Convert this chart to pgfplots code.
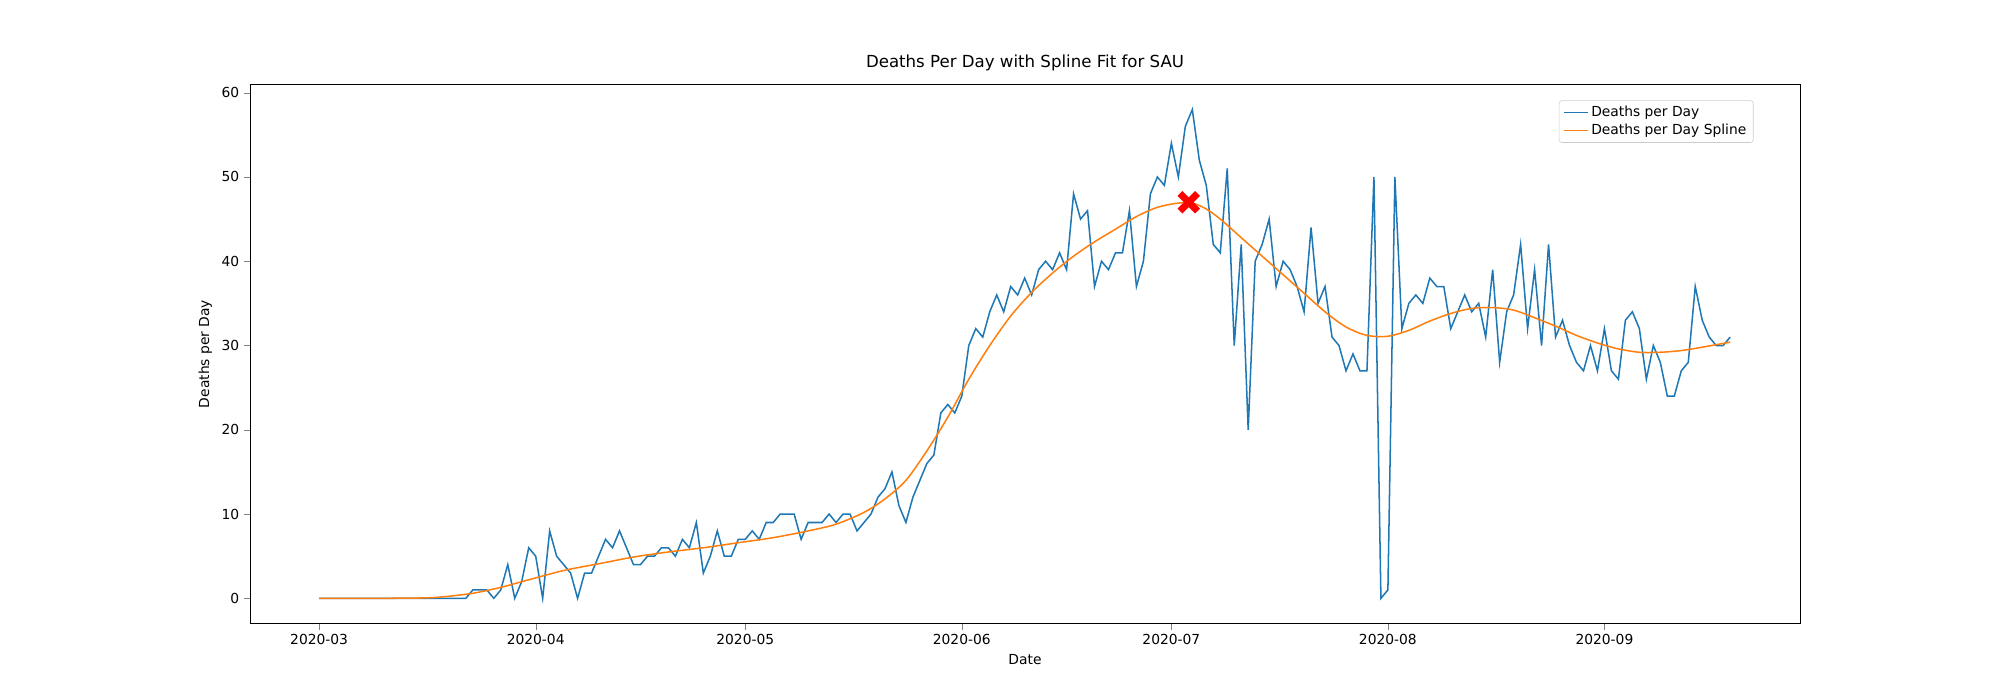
\documentclass[border=0pt]{standalone}
\usepackage{pgfplots}
\pgfplotsset{compat=1.18}
\usepackage{fontspec}
\setmainfont{DejaVu Sans}
\definecolor{mplblue}{HTML}{1F77B4}
\definecolor{mplorange}{HTML}{FF7F0E}
\begin{document}
\begin{tikzpicture}
\path[use as bounding box] (-6.35cm,-1.94cm) rectangle (44.45cm,15.84cm);
\begin{axis}[
  scale only axis, width=39.37cm, height=13.7cm,
  xmin=-9.9, xmax=212, ymin=-3, ymax=61,
  xtick={0,31,61,92,122,153,184},
  xticklabels={2020-03,2020-04,2020-05,2020-06,2020-07,2020-08,2020-09},
  ytick={0,10,20,30,40,50,60},
  tick align=outside, tick pos=left,
  /pgf/number format/assume math mode=true,
  ticklabel style={font=\fontsize{10}{12}\selectfont},
  label style={font=\fontsize{10}{12}\selectfont},
  xlabel={Date}, ylabel={Deaths per Day},
  title={Deaths Per Day with Spline Fit for SAU},
  title style={font=\fontsize{12}{14}\selectfont},
  legend pos=north east,
  legend style={font=\fontsize{10}{12}\selectfont, draw=black!20, rounded corners=2pt, cells={anchor=west}},
  legend cell align=left,
]
\addplot[mplblue, line width=1.1pt] coordinates {
(0,0)(1,0)(2,0)(3,0)(4,0)(5,0)(6,0)(7,0)(8,0)(9,0)(10,0)(11,0)(12,0)(13,0)(14,0)(15,0)(16,0)(17,0)(18,0)(19,0)(20,0)(21,0)
(22,1)(23,1)(24,1)(25,0)(26,1)(27,4)(28,0)(29,2)(30,6)(31,5)(32,0)(33,8)(34,5)(35,4)(36,3)(37,0)(38,3)(39,3)
(40,5)(41,7)(42,6)(43,8)(44,6)(45,4)(46,4)(47,5)(48,5)(49,6)(50,6)(51,5)(52,7)(53,6)(54,9)(55,3)(56,5)(57,8)(58,5)(59,5)
(60,7)(61,7)(62,8)(63,7)(64,9)(65,9)(66,10)(67,10)(68,10)(69,7)(70,9)(71,9)(72,9)(73,10)(74,9)(75,10)(76,10)(77,8)(78,9)(79,10)
(80,12)(81,13)(82,15)(83,11)(84,9)(85,12)(86,14)(87,16)(88,17)(89,22)(90,23)(91,22)(92,24)(93,30)(94,32)(95,31)(96,34)(97,36)(98,34)(99,37)
(100,36)(101,38)(102,36)(103,39)(104,40)(105,39)(106,41)(107,39)(108,48)(109,45)(110,46)(111,37)(112,40)(113,39)(114,41)(115,41)(116,46)(117,37)(118,40)(119,48)
(120,50)(121,49)(122,54)(123,50)(124,56)(125,58)(126,52)(127,49)(128,42)(129,41)(130,51)(131,30)(132,42)(133,20)(134,40)(135,42)(136,45)(137,37)(138,40)(139,39)
(140,37)(141,34)(142,44)(143,35)(144,37)(145,31)(146,30)(147,27)(148,29)(149,27)(150,27)(151,50)
(152,0)(153,1)(154,50)(155,32)(156,35)(157,36)(158,35)(159,38)(160,37)(161,37)(162,32)(163,34)(164,36)(165,34)(166,35)(167,31)(168,39)(169,28)(170,34)(171,36)
(172,42)(173,32)(174,39)(175,30)(176,42)(177,31)(178,33)(179,30)(180,28)(181,27)(182,30)(183,27)(184,32)(185,27)(186,26)(187,33)(188,34)(189,32)(190,26)(191,30)
(192,28)(193,24)(194,24)(195,27)(196,28)(197,37)(198,33)(199,31)(200,30)(201,30)(202,31)
};
\addlegendentry{Deaths per Day}
\addplot[mplorange, line width=1.1pt, smooth] coordinates {
(0,0)(8,0)(15,0.05)(18,0.2)(22,0.6)(26,1.3)(30,2.2)(35,3.3)(40,4.1)(45,4.9)(50,5.5)(55,6)(60,6.6)(65,7.2)(70,8)(74,8.8)(78,10.2)(81,11.8)(84,14)(87,17.5)(90,21.5)(93,26)(96,30)(99,33.5)(102,36.3)(105,38.6)(108,40.6)(111,42.3)(114,43.8)(117,45.3)(120,46.4)(123,46.9)(125,46.9)(127,46.2)(129,45)(132,42.8)(135,40.6)(138,38.4)(141,36.2)(144,34)(147,32.2)(150,31.2)(153,31.1)(156,31.8)(159,32.9)(162,33.8)(165,34.4)(168,34.5)(171,34.2)(174,33.3)(177,32.3)(180,31.2)(183,30.3)(186,29.6)(189,29.2)(192,29.2)(195,29.4)(198,29.8)(202,30.4)
};
\addlegendentry{Deaths per Day Spline}
\addplot[only marks, red, mark=x, mark size=9pt, line width=5pt, forget plot] coordinates {(124.5,47)};
\end{axis}
\end{tikzpicture}
\end{document}
